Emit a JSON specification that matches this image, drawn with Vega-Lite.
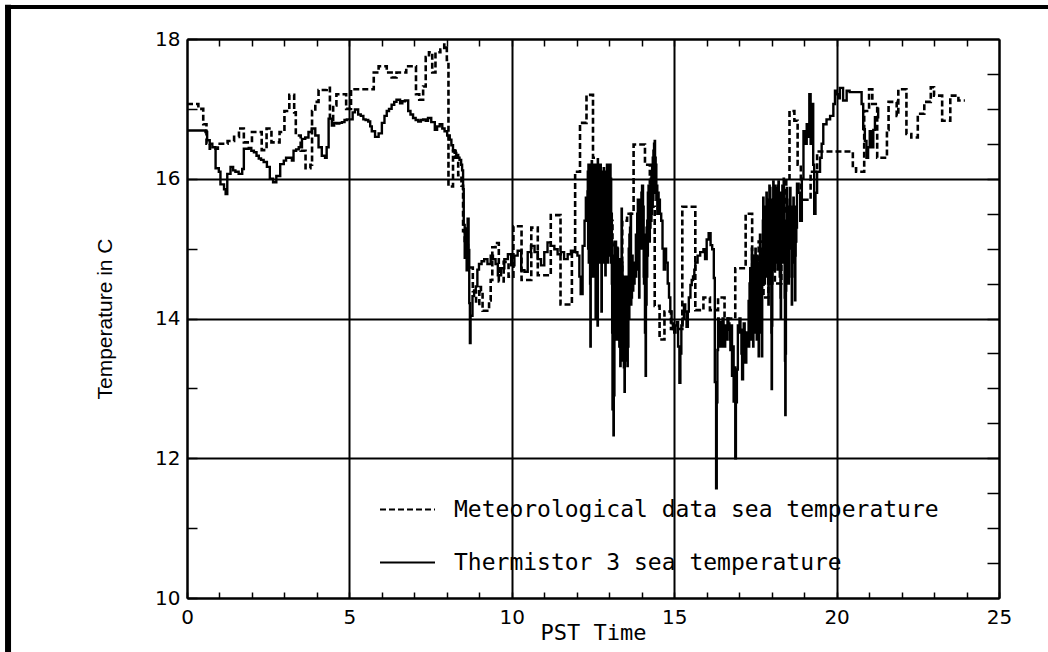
{
"$schema": "https://vega.github.io/schema/vega-lite/v6.json",
"width": 812,
"height": 559,
"autosize": {"type": "none"},
"padding": {"left": 187, "top": 39, "right": 49, "bottom": 54},
"background": "white",
"config": {"view": {"stroke": null}},
"datasets": {
"met": [
{"h":0,"t":17.07},{"h":0.35,"t":17.0},{"h":0.5,"t":16.78},{"h":0.6,"t":16.5},{"h":0.7,"t":16.43},{"h":0.95,"t":16.5},{"h":1.25,"t":16.54},{"h":1.45,"t":16.6},{"h":1.6,"t":16.72},{"h":1.75,"t":16.52},{"h":2.0,"t":16.67},{"h":2.3,"t":16.41},{"h":2.45,"t":16.72},{"h":2.6,"t":16.52},{"h":2.85,"t":16.67},{"h":3.0,"t":16.97},{"h":3.15,"t":17.2},{"h":3.3,"t":16.95},{"h":3.35,"t":16.62},{"h":3.5,"t":16.4},{"h":3.65,"t":16.15},{"h":3.8,"t":16.2},{"h":3.85,"t":16.97},{"h":3.95,"t":17.1},{"h":4.05,"t":17.27},{"h":4.3,"t":17.3},{"h":4.4,"t":16.84},{"h":4.5,"t":17.05},{"h":4.6,"t":17.21},{"h":4.9,"t":17.0},{"h":5.05,"t":17.28},{"h":5.75,"t":17.52},{"h":5.9,"t":17.61},{"h":6.15,"t":17.52},{"h":6.3,"t":17.45},{"h":6.45,"t":17.52},{"h":6.75,"t":17.61},{"h":7.05,"t":17.21},{"h":7.15,"t":17.13},{"h":7.27,"t":17.32},{"h":7.35,"t":17.74},{"h":7.45,"t":17.81},{"h":7.55,"t":17.52},{"h":7.65,"t":17.81},{"h":7.8,"t":17.85},{"h":7.92,"t":17.92},{"h":8.0,"t":17.7},{"h":8.05,"t":15.89},{"h":8.19,"t":16.4},{"h":8.27,"t":16.3},{"h":8.35,"t":16.05},{"h":8.45,"t":15.9},{"h":8.5,"t":15.25},{"h":8.55,"t":15.05},{"h":8.65,"t":14.73},{"h":8.8,"t":14.39},{"h":8.9,"t":14.21},{"h":9.0,"t":14.45},{"h":9.05,"t":14.39},{"h":9.1,"t":14.11},{"h":9.3,"t":14.26},{"h":9.35,"t":14.55},{"h":9.4,"t":15.02},{"h":9.5,"t":15.08},{"h":9.6,"t":14.53},{"h":9.75,"t":14.81},{"h":9.9,"t":14.6},{"h":10.05,"t":15.32},{"h":10.3,"t":14.55},{"h":10.6,"t":15.3},{"h":10.8,"t":14.62},{"h":11.2,"t":15.48},{"h":11.5,"t":14.2},{"h":11.85,"t":14.95},{"h":11.95,"t":16.1},{"h":12.1,"t":16.8},{"h":12.3,"t":17.2},{"h":12.5,"t":16.3},{"h":12.65,"t":15.9},{"h":12.85,"t":15.6},{"h":13.0,"t":15.4},{"h":13.1,"t":15.05},{"h":13.25,"t":14.5},{"h":13.4,"t":15.4},{"h":13.55,"t":15.5},{"h":13.75,"t":16.49},{"h":14.1,"t":16.2},{"h":14.25,"t":15.6},{"h":14.4,"t":14.18},{"h":14.55,"t":13.7},{"h":14.7,"t":14.1},{"h":14.9,"t":13.85},{"h":15.25,"t":15.6},{"h":15.65,"t":14.12},{"h":15.9,"t":14.3},{"h":16.1,"t":14.12},{"h":16.35,"t":14.3},{"h":16.55,"t":14.0},{"h":16.88,"t":14.72},{"h":17.2,"t":15.5},{"h":17.4,"t":14.4},{"h":17.6,"t":15.1},{"h":17.75,"t":14.3},{"h":17.9,"t":14.7},{"h":18.1,"t":14.5},{"h":18.3,"t":15.5},{"h":18.45,"t":16.0},{"h":18.55,"t":16.97},{"h":18.7,"t":16.83},{"h":18.8,"t":16.2},{"h":18.9,"t":15.7},{"h":19.2,"t":16.1},{"h":19.4,"t":16.39},{"h":20.5,"t":16.15},{"h":20.6,"t":16.1},{"h":20.85,"t":16.97},{"h":21.0,"t":17.28},{"h":21.1,"t":17.07},{"h":21.25,"t":16.3},{"h":21.55,"t":16.7},{"h":21.6,"t":17.1},{"h":21.85,"t":16.9},{"h":21.9,"t":17.28},{"h":22.15,"t":16.64},{"h":22.3,"t":16.59},{"h":22.5,"t":16.93},{"h":22.7,"t":17.1},{"h":22.9,"t":17.31},{"h":23.0,"t":17.19},{"h":23.25,"t":16.83},{"h":23.5,"t":17.19},{"h":23.75,"t":17.12},{"h":23.95,"t":17.12}
],
"thermo": [
{"h":0,"t":16.69},{"h":0.57,"t":16.67},{"h":0.62,"t":16.55},{"h":0.7,"t":16.5},{"h":0.78,"t":16.45},{"h":0.88,"t":16.15},{"h":0.98,"t":16.1},{"h":1.03,"t":15.92},{"h":1.14,"t":15.85},{"h":1.19,"t":15.78},{"h":1.24,"t":16.07},{"h":1.34,"t":16.17},{"h":1.42,"t":16.12},{"h":1.49,"t":16.1},{"h":1.59,"t":16.07},{"h":1.7,"t":16.14},{"h":1.75,"t":16.43},{"h":1.9,"t":16.44},{"h":1.98,"t":16.4},{"h":2.06,"t":16.38},{"h":2.14,"t":16.33},{"h":2.21,"t":16.29},{"h":2.28,"t":16.27},{"h":2.36,"t":16.24},{"h":2.46,"t":16.17},{"h":2.55,"t":16.0},{"h":2.65,"t":15.95},{"h":2.75,"t":16.04},{"h":2.87,"t":16.21},{"h":2.98,"t":16.26},{"h":3.05,"t":16.3},{"h":3.13,"t":16.3},{"h":3.23,"t":16.26},{"h":3.28,"t":16.4},{"h":3.36,"t":16.42},{"h":3.44,"t":16.45},{"h":3.54,"t":16.57},{"h":3.64,"t":16.59},{"h":3.74,"t":16.67},{"h":3.84,"t":16.72},{"h":3.95,"t":16.62},{"h":4.05,"t":16.45},{"h":4.15,"t":16.33},{"h":4.25,"t":16.3},{"h":4.3,"t":16.45},{"h":4.36,"t":16.86},{"h":4.46,"t":16.76},{"h":4.53,"t":16.8},{"h":4.61,"t":16.79},{"h":4.69,"t":16.8},{"h":4.77,"t":16.81},{"h":4.85,"t":16.84},{"h":4.92,"t":16.85},{"h":5.02,"t":16.85},{"h":5.1,"t":16.95},{"h":5.17,"t":16.99},{"h":5.27,"t":16.92},{"h":5.35,"t":16.9},{"h":5.43,"t":16.85},{"h":5.5,"t":16.84},{"h":5.58,"t":16.82},{"h":5.64,"t":16.75},{"h":5.69,"t":16.68},{"h":5.79,"t":16.6},{"h":5.9,"t":16.65},{"h":6.0,"t":16.8},{"h":6.08,"t":16.9},{"h":6.15,"t":16.97},{"h":6.22,"t":17.0},{"h":6.3,"t":17.06},{"h":6.38,"t":17.1},{"h":6.45,"t":17.13},{"h":6.56,"t":17.08},{"h":6.63,"t":17.11},{"h":6.71,"t":17.12},{"h":6.81,"t":16.97},{"h":6.88,"t":16.92},{"h":6.96,"t":16.87},{"h":7.04,"t":16.84},{"h":7.12,"t":16.82},{"h":7.2,"t":16.84},{"h":7.27,"t":16.85},{"h":7.35,"t":16.83},{"h":7.42,"t":16.87},{"h":7.52,"t":16.81},{"h":7.63,"t":16.7},{"h":7.7,"t":16.75},{"h":7.78,"t":16.78},{"h":7.86,"t":16.72},{"h":7.93,"t":16.68},{"h":8.01,"t":16.62},{"h":8.09,"t":16.56},{"h":8.14,"t":16.48},{"h":8.19,"t":16.41},{"h":8.24,"t":16.37},{"h":8.29,"t":16.34},{"h":8.35,"t":16.3},{"h":8.39,"t":16.27},{"h":8.44,"t":16.2},{"h":8.47,"t":16.12},{"h":8.5,"t":15.85},{"h":8.52,"t":15.34},{"h":8.55,"t":14.87},{"h":8.58,"t":15.29},{"h":8.61,"t":14.69},{"h":8.64,"t":15.43},{"h":8.67,"t":14.98},{"h":8.69,"t":14.22},{"h":8.71,"t":13.65},{"h":8.73,"t":14.04},{"h":8.79,"t":14.32},{"h":8.84,"t":14.4},{"h":8.89,"t":14.46},{"h":8.94,"t":14.7},{"h":8.99,"t":14.78},{"h":9.07,"t":14.82},{"h":9.15,"t":14.85},{"h":9.25,"t":14.78},{"h":9.35,"t":14.9},{"h":9.42,"t":14.85},{"h":9.5,"t":14.78},{"h":9.57,"t":14.62},{"h":9.67,"t":14.72},{"h":9.77,"t":14.85},{"h":9.88,"t":14.92},{"h":9.98,"t":14.76},{"h":10.08,"t":14.9},{"h":10.18,"t":14.97},{"h":10.29,"t":14.69},{"h":10.39,"t":14.67},{"h":10.49,"t":14.95},{"h":10.59,"t":15.04},{"h":10.7,"t":14.95},{"h":10.8,"t":14.85},{"h":10.9,"t":14.76},{"h":11.0,"t":14.95},{"h":11.1,"t":15.09},{"h":11.2,"t":15.04},{"h":11.31,"t":14.99},{"h":11.41,"t":14.92},{"h":11.51,"t":14.95},{"h":11.61,"t":14.85},{"h":11.72,"t":14.92},{"h":11.82,"t":14.97},{"h":11.92,"t":14.95},{"h":12.02,"t":14.9},{"h":12.08,"t":14.6},{"h":12.12,"t":14.35},{"h":12.18,"t":15.04},{"h":12.24,"t":15.4},{"h":12.28,"t":15.73},{"h":12.33,"t":15.82},
{"h":12.34,"t":16.1},{"h":12.35,"t":15.0},{"h":12.36,"t":16.2},{"h":12.37,"t":14.8},{"h":12.38,"t":16.0},{"h":12.39,"t":15.1},{"h":12.4,"t":16.2},{"h":12.41,"t":14.5},{"h":12.42,"t":13.6},{"h":12.43,"t":15.9},{"h":12.44,"t":14.9},{"h":12.45,"t":16.1},{"h":12.46,"t":16.25},{"h":12.47,"t":14.8},{"h":12.48,"t":16.0},{"h":12.49,"t":15.0},{"h":12.5,"t":14.6},{"h":12.51,"t":16.0},{"h":12.52,"t":14.8},{"h":12.53,"t":16.2},{"h":12.54,"t":15.0},{"h":12.55,"t":16.1},{"h":12.56,"t":14.8},{"h":12.57,"t":16.0},{"h":12.58,"t":14.0},{"h":12.59,"t":16.1},{"h":12.6,"t":14.9},{"h":12.61,"t":16.2},{"h":12.62,"t":15.0},{"h":12.63,"t":16.1},{"h":12.64,"t":13.9},{"h":12.65,"t":16.0},{"h":12.66,"t":14.8},{"h":12.67,"t":16.1},{"h":12.68,"t":15.0},{"h":12.69,"t":16.2},{"h":12.7,"t":14.8},{"h":12.71,"t":16.0},{"h":12.72,"t":15.0},{"h":12.73,"t":16.2},{"h":12.74,"t":14.9},{"h":12.75,"t":16.0},{"h":12.76,"t":14.1},{"h":12.77,"t":16.1},{"h":12.78,"t":14.9},{"h":12.79,"t":16.0},{"h":12.8,"t":15.0},{"h":12.81,"t":16.1},{"h":12.82,"t":14.8},{"h":12.83,"t":16.15},{"h":12.84,"t":15.0},{"h":12.85,"t":16.0},{"h":12.86,"t":14.9},{"h":12.87,"t":16.1},{"h":12.88,"t":14.62},{"h":12.89,"t":16.0},{"h":12.9,"t":14.9},{"h":12.91,"t":16.1},{"h":12.92,"t":15.0},{"h":12.93,"t":16.2},{"h":12.94,"t":14.9},{"h":12.95,"t":16.0},{"h":12.96,"t":14.8},{"h":12.97,"t":16.1},{"h":12.98,"t":15.0},{"h":12.99,"t":16.2},{"h":13.0,"t":14.9},{"h":13.01,"t":16.1},{"h":13.02,"t":15.0},{"h":13.03,"t":16.2},{"h":13.04,"t":15.2},{"h":13.05,"t":16.0},{"h":13.06,"t":14.8},{"h":13.07,"t":15.5},{"h":13.08,"t":14.5},
{"h":13.09,"t":13.8},{"h":13.1,"t":12.7},{"h":13.11,"t":14.6},{"h":13.12,"t":13.5},{"h":13.13,"t":12.33},{"h":13.14,"t":14.9},{"h":13.15,"t":12.9},{"h":13.16,"t":15.1},{"h":13.17,"t":14.2},{"h":13.18,"t":15.0},{"h":13.19,"t":13.8},{"h":13.2,"t":15.1},{"h":13.21,"t":14.0},{"h":13.22,"t":14.9},{"h":13.23,"t":13.7},{"h":13.24,"t":14.8},{"h":13.25,"t":13.9},{"h":13.26,"t":15.0},{"h":13.27,"t":13.8},{"h":13.28,"t":14.85},{"h":13.29,"t":13.7},{"h":13.3,"t":14.85},{"h":13.31,"t":13.6},{"h":13.32,"t":14.6},{"h":13.33,"t":13.8},{"h":13.34,"t":13.32},{"h":13.35,"t":14.7},{"h":13.36,"t":13.6},{"h":13.37,"t":14.8},{"h":13.38,"t":15.57},{"h":13.39,"t":13.6},{"h":13.4,"t":14.8},{"h":13.41,"t":13.4},{"h":13.42,"t":14.6},{"h":13.43,"t":13.5},{"h":13.44,"t":14.5},{"h":13.45,"t":13.3},{"h":13.46,"t":14.4},{"h":13.47,"t":12.95},{"h":13.48,"t":14.4},{"h":13.49,"t":13.4},{"h":13.5,"t":14.6},{"h":13.51,"t":13.5},{"h":13.52,"t":14.6},{"h":13.53,"t":13.4},{"h":13.54,"t":14.4},{"h":13.55,"t":13.6},{"h":13.56,"t":13.32},{"h":13.57,"t":14.6},{"h":13.58,"t":13.6},{"h":13.59,"t":14.5},{"h":13.6,"t":15.0},{"h":13.61,"t":14.0},{"h":13.62,"t":15.2},{"h":13.63,"t":14.2},{"h":13.64,"t":15.3},{"h":13.65,"t":14.3},{"h":13.66,"t":15.5},{"h":13.67,"t":14.2},{"h":13.68,"t":14.8},{"h":13.69,"t":14.3},{"h":13.7,"t":14.9},{"h":13.72,"t":14.4},{"h":13.74,"t":14.8},{"h":13.76,"t":14.5},{"h":13.78,"t":14.8},{"h":13.8,"t":14.6},{"h":13.82,"t":15.2},{"h":13.84,"t":14.7},{"h":13.86,"t":15.5},{"h":13.87,"t":15.1},{"h":13.88,"t":15.7},{"h":13.89,"t":14.9},{"h":13.9,"t":15.6},{"h":13.91,"t":14.6},{"h":13.92,"t":14.3},{"h":13.93,"t":15.6},{"h":13.94,"t":15.0},{"h":13.95,"t":15.7},{"h":13.96,"t":15.1},{"h":13.97,"t":15.64},{"h":13.98,"t":15.0},{"h":13.99,"t":15.8},{"h":14.0,"t":15.2},{"h":14.01,"t":15.9},{"h":14.02,"t":15.3},{"h":14.03,"t":15.9},{"h":14.04,"t":15.0},{"h":14.05,"t":15.6},{"h":14.06,"t":14.6},{"h":14.07,"t":14.5},{"h":14.08,"t":15.2},{"h":14.1,"t":13.8},{"h":14.11,"t":14.8},{"h":14.12,"t":13.18},{"h":14.13,"t":14.9},{"h":14.14,"t":14.2},{"h":14.15,"t":15.3},{"h":14.16,"t":14.6},{"h":14.17,"t":15.4},{"h":14.18,"t":14.9},{"h":14.19,"t":15.8},{"h":14.2,"t":15.2},{"h":14.21,"t":15.9},{"h":14.22,"t":15.3},{"h":14.23,"t":15.9},{"h":14.24,"t":15.1},{"h":14.25,"t":15.8},{"h":14.26,"t":15.3},{"h":14.27,"t":15.5},{"h":14.28,"t":16.0},{"h":14.29,"t":15.4},{"h":14.3,"t":16.1},{"h":14.31,"t":15.5},{"h":14.32,"t":16.2},{"h":14.33,"t":15.6},{"h":14.34,"t":16.3},{"h":14.35,"t":15.7},{"h":14.36,"t":16.4},{"h":14.37,"t":15.8},{"h":14.38,"t":16.5},{"h":14.39,"t":15.9},{"h":14.4,"t":16.54},{"h":14.41,"t":15.9},{"h":14.42,"t":16.3},{"h":14.43,"t":15.8},{"h":14.44,"t":16.2},{"h":14.45,"t":15.7},{"h":14.46,"t":15.9},{"h":14.48,"t":15.5},{"h":14.5,"t":15.8},{"h":14.52,"t":15.7},{"h":14.56,"t":15.5},{"h":14.6,"t":15.4},{"h":14.64,"t":15.0},{"h":14.68,"t":14.7},{"h":14.72,"t":15.0},{"h":14.75,"t":14.8},{"h":14.8,"t":14.5},{"h":14.84,"t":14.3},{"h":14.88,"t":14.1},{"h":14.92,"t":13.93},{"h":14.96,"t":13.85},{"h":15.0,"t":13.8},{"h":15.04,"t":13.9},{"h":15.08,"t":13.95},{"h":15.12,"t":13.6},{"h":15.16,"t":13.08},{"h":15.19,"t":13.5},{"h":15.22,"t":13.9},{"h":15.26,"t":14.0},{"h":15.3,"t":14.2},{"h":15.34,"t":14.1},{"h":15.38,"t":13.88},{"h":15.42,"t":14.1},{"h":15.45,"t":14.3},{"h":15.5,"t":14.48},{"h":15.54,"t":14.55},{"h":15.58,"t":14.62},{"h":15.62,"t":14.7},{"h":15.65,"t":14.8},{"h":15.72,"t":14.9},{"h":15.8,"t":14.95},{"h":15.9,"t":14.99},{"h":15.95,"t":14.85},{"h":16.0,"t":15.13},{"h":16.06,"t":15.22},{"h":16.12,"t":15.05},{"h":16.17,"t":14.99},{"h":16.22,"t":14.58},{"h":16.25,"t":13.09},{"h":16.29,"t":11.57},{"h":16.31,"t":12.8},{"h":16.33,"t":13.55},{"h":16.35,"t":14.0},{"h":16.37,"t":13.84},{"h":16.39,"t":13.6},{"h":16.42,"t":13.95},{"h":16.44,"t":13.6},{"h":16.47,"t":13.74},{"h":16.49,"t":14.0},{"h":16.52,"t":13.84},{"h":16.54,"t":13.6},{"h":16.57,"t":13.9},{"h":16.59,"t":13.7},{"h":16.62,"t":13.84},{"h":16.64,"t":14.0},{"h":16.67,"t":13.93},{"h":16.7,"t":13.7},{"h":16.73,"t":13.55},{"h":16.76,"t":13.9},{"h":16.78,"t":13.18},{"h":16.8,"t":13.6},{"h":16.83,"t":12.81},{"h":16.86,"t":13.3},{"h":16.88,"t":12.0},{"h":16.9,"t":12.8},{"h":16.93,"t":13.27},{"h":16.96,"t":13.9},{"h":16.98,"t":13.8},{"h":17.01,"t":14.0},{"h":17.04,"t":13.84},{"h":17.07,"t":13.5},{"h":17.09,"t":13.13},{"h":17.12,"t":13.6},{"h":17.14,"t":13.93},{"h":17.17,"t":13.6},{"h":17.19,"t":13.37},{"h":17.22,"t":13.6},{"h":17.24,"t":13.8},{"h":17.27,"t":13.6},
{"h":17.29,"t":14.25},{"h":17.3,"t":13.6},{"h":17.31,"t":13.9},{"h":17.32,"t":14.5},{"h":17.34,"t":14.72},{"h":17.35,"t":13.8},{"h":17.36,"t":14.3},{"h":17.38,"t":13.7},{"h":17.39,"t":15.0},{"h":17.4,"t":13.9},{"h":17.41,"t":14.4},{"h":17.42,"t":14.6},{"h":17.43,"t":13.6},{"h":17.44,"t":14.2},{"h":17.46,"t":14.9},{"h":17.47,"t":14.7},{"h":17.48,"t":13.8},{"h":17.5,"t":15.0},{"h":17.51,"t":14.3},{"h":17.53,"t":14.5},{"h":17.54,"t":13.7},{"h":17.55,"t":14.9},{"h":17.56,"t":14.0},{"h":17.58,"t":14.5},{"h":17.6,"t":13.46},{"h":17.61,"t":14.8},{"h":17.62,"t":14.2},{"h":17.63,"t":13.8},{"h":17.64,"t":15.2},{"h":17.65,"t":14.9},{"h":17.66,"t":14.4},{"h":17.67,"t":14.2},{"h":17.68,"t":15.0},{"h":17.69,"t":14.8},{"h":17.7,"t":13.46},{"h":17.71,"t":14.9},
{"h":17.72,"t":14.6},{"h":17.73,"t":15.4},{"h":17.74,"t":15.73},{"h":17.75,"t":14.8},{"h":17.76,"t":15.5},{"h":17.77,"t":15.2},{"h":17.78,"t":14.5},{"h":17.79,"t":15.6},{"h":17.8,"t":14.9},{"h":17.81,"t":15.5},{"h":17.82,"t":15.3},{"h":17.83,"t":14.6},{"h":17.84,"t":15.8},{"h":17.85,"t":15.64},{"h":17.86,"t":15.0},{"h":17.87,"t":15.7},{"h":17.88,"t":14.9},{"h":17.89,"t":14.5},{"h":17.9,"t":14.2},{"h":17.91,"t":15.5},{"h":17.92,"t":15.0},{"h":17.93,"t":15.9},{"h":17.94,"t":14.8},{"h":17.95,"t":15.87},{"h":17.96,"t":15.2},{"h":17.97,"t":15.7},{"h":17.98,"t":14.5},{"h":17.99,"t":13.8},{"h":18.0,"t":12.99},{"h":18.01,"t":13.9},{"h":18.02,"t":14.5},{"h":18.03,"t":15.6},{"h":18.04,"t":15.1},{"h":18.05,"t":15.96},{"h":18.06,"t":15.0},{"h":18.07,"t":15.8},{"h":18.08,"t":15.4},{"h":18.09,"t":14.7},{"h":18.1,"t":14.9},{"h":18.11,"t":15.9},{"h":18.12,"t":15.4},{"h":18.13,"t":14.8},{"h":18.14,"t":15.7},{"h":18.15,"t":15.87},{"h":18.16,"t":15.0},{"h":18.17,"t":15.6},{"h":18.18,"t":14.7},{"h":18.19,"t":15.5},{"h":18.2,"t":15.9},{"h":18.21,"t":15.96},{"h":18.22,"t":15.2},{"h":18.23,"t":15.8},{"h":18.24,"t":15.0},{"h":18.25,"t":14.6},{"h":18.26,"t":15.5},{"h":18.27,"t":14.3},{"h":18.28,"t":14.0},{"h":18.29,"t":15.1},{"h":18.3,"t":15.8},{"h":18.31,"t":14.9},{"h":18.32,"t":15.2},{"h":18.33,"t":15.9},{"h":18.34,"t":15.3},{"h":18.35,"t":15.7},{"h":18.36,"t":14.8},{"h":18.37,"t":16.0},{"h":18.38,"t":15.4},{"h":18.39,"t":15.0},{"h":18.4,"t":14.3},{"h":18.41,"t":13.4},{"h":18.42,"t":12.62},{"h":18.43,"t":13.5},{"h":18.44,"t":14.4},{"h":18.45,"t":15.3},{"h":18.46,"t":15.8},{"h":18.47,"t":15.87},{"h":18.48,"t":15.0},{"h":18.49,"t":15.6},{"h":18.5,"t":15.2},{"h":18.51,"t":14.8},{"h":18.52,"t":14.5},{"h":18.53,"t":15.5},{"h":18.54,"t":15.0},{"h":18.55,"t":15.2},{"h":18.56,"t":15.7},{"h":18.57,"t":15.87},{"h":18.58,"t":15.3},{"h":18.59,"t":15.6},{"h":18.6,"t":15.0},{"h":18.61,"t":14.6},{"h":18.62,"t":14.2},{"h":18.63,"t":14.8},{"h":18.64,"t":15.5},{"h":18.65,"t":15.0},{"h":18.66,"t":15.4},{"h":18.67,"t":15.73},{"h":18.68,"t":15.2},{"h":18.69,"t":15.6},{"h":18.7,"t":15.0},{"h":18.71,"t":14.6},{"h":18.72,"t":14.26},{"h":18.73,"t":14.9},{"h":18.74,"t":15.5},{"h":18.75,"t":15.1},{"h":18.76,"t":15.6},{"h":18.77,"t":15.3},{"h":18.78,"t":15.93},
{"h":18.83,"t":15.8},{"h":18.88,"t":15.4},{"h":18.93,"t":16.0},{"h":18.98,"t":16.68},{"h":19.03,"t":16.5},{"h":19.08,"t":16.78},{"h":19.12,"t":16.6},{"h":19.16,"t":17.21},{"h":19.2,"t":16.5},{"h":19.25,"t":17.07},{"h":19.28,"t":16.2},{"h":19.31,"t":15.5},{"h":19.35,"t":15.8},{"h":19.4,"t":16.1},{"h":19.49,"t":16.3},{"h":19.54,"t":16.5},{"h":19.59,"t":16.78},{"h":19.69,"t":16.85},{"h":19.8,"t":16.9},{"h":19.9,"t":17.07},{"h":19.95,"t":17.26},{"h":20.0,"t":17.21},{"h":20.05,"t":17.15},{"h":20.1,"t":17.3},{"h":20.2,"t":17.12},{"h":20.31,"t":17.26},{"h":20.4,"t":17.24},{"h":20.7,"t":17.24},{"h":20.77,"t":17.07},{"h":20.82,"t":16.71},{"h":20.87,"t":16.54},{"h":20.92,"t":16.3},{"h":20.97,"t":16.45},{"h":21.02,"t":16.68},{"h":21.08,"t":16.45},{"h":21.13,"t":16.7},{"h":21.18,"t":16.88},{"h":21.28,"t":17.02}
]
},
"layer": [
{
"data": {"values": [{}]},
"mark": {"type": "rule", "clip": false, "color": "black", "strokeWidth": 6},
"encoding": {
"x": {"datum": -5.51, "type": "quantitative", "scale": {"domain": [0, 25], "nice": false, "zero": false}, "axis": null},
"y": {"datum": 18.49, "type": "quantitative", "scale": {"domain": [10, 18], "nice": false, "zero": false}, "axis": null},
"y2": {"datum": 9.0}
}
},
{
"data": {"values": [{}]},
"mark": {"type": "rule", "clip": false, "color": "black", "strokeWidth": 4},
"encoding": {
"x": {"datum": -5.6, "type": "quantitative", "axis": null},
"x2": {"datum": 26.6},
"y": {"datum": 18.458, "type": "quantitative", "axis": null}
}
},
{
"data": {"name": "met"},
"mark": {"type": "line", "interpolate": "step-after", "color": "black", "strokeWidth": 2.6},
"encoding": {
"x": {"field": "h", "type": "quantitative",
"axis": {"orient": "top", "values": [1,2,3,4,5,6,7,8,9,10,11,12,13,14,15,16,17,18,19,20,21,22,23,24], "labels": false, "tickSize": -7, "tickWidth": 1.5, "tickColor": "black", "domainColor": "black", "domainWidth": 2, "grid": false, "title": null}},
"y": {"field": "t", "type": "quantitative",
"axis": {"orient": "right", "values": [10.5,11,11.5,12,12.5,13,13.5,14,14.5,15,15.5,16,16.5,17,17.5], "labels": false, "tickSize": -12, "tickWidth": 1.5, "tickColor": "black", "domainColor": "black", "domainWidth": 2, "grid": false, "title": null}},
"strokeDash": {"datum": "Meteorological data sea temperature", "type": "nominal",
"scale": {"domain": ["Meteorological data sea temperature", "Thermistor 3 sea temperature"], "range": [[6, 3], [1, 0]]},
"legend": {"title": null, "orient": "none", "legendX": 192, "legendY": 442, "symbolType": "stroke", "symbolSize": 3025, "symbolStrokeWidth": 2, "symbolStrokeColor": "black", "labelFont": "DejaVu Sans Mono", "labelFontSize": 23, "labelColor": "black", "labelOffset": 18, "rowPadding": 12, "labelLimit": 0}}
}
},
{
"data": {"name": "thermo"},
"mark": {"type": "line", "interpolate": "step-after", "color": "black", "strokeWidth": 2.4},
"encoding": {
"x": {"field": "h", "type": "quantitative",
"axis": {"orient": "bottom", "values": [0,1,2,3,4,5,6,7,8,9,10,11,12,13,14,15,16,17,18,19,20,21,22,23,24,25], "labelExpr": "datum.value % 5 === 0 ? datum.label : ''", "labelFlush": false, "labelOverlap": false, "tickSize": -6, "tickWidth": 1.5, "tickColor": "black", "labelPadding": 15, "labelFont": "DejaVu Sans", "labelFontSize": 20, "labelColor": "black", "domainColor": "black", "domainWidth": 2, "grid": true, "gridColor": "black", "gridWidth": 2, "gridOpacity": {"condition": {"test": "datum.value % 5 === 0", "value": 1}, "value": 0}, "title": "PST Time", "titleFont": "DejaVu Sans Mono", "titleFontSize": 22, "titleFontWeight": "normal", "titleColor": "black", "titlePadding": -5}},
"y": {"field": "t", "type": "quantitative",
"axis": {"orient": "left", "values": [10,10.5,11,11.5,12,12.5,13,13.5,14,14.5,15,15.5,16,16.5,17,17.5,18], "format": "d", "labelExpr": "datum.value % 2 === 0 ? datum.label : ''", "labelFlush": false, "labelOverlap": false, "tickSize": -10, "tickWidth": 1.5, "tickColor": "black", "labelPadding": 17, "labelFont": "DejaVu Sans", "labelFontSize": 20, "labelColor": "black", "domainColor": "black", "domainWidth": 2, "grid": true, "gridColor": "black", "gridWidth": 2, "gridOpacity": {"condition": {"test": "datum.value % 2 === 0", "value": 1}, "value": 0}, "title": "Temperature in C", "titleFont": "Liberation Sans", "titleFontSize": 21, "titleFontWeight": "normal", "titleColor": "black", "titlePadding": 39}},
"strokeDash": {"datum": "Thermistor 3 sea temperature", "type": "nominal",
"scale": {"domain": ["Meteorological data sea temperature", "Thermistor 3 sea temperature"], "range": [[6, 3], [1, 0]]},
"legend": {"title": null, "orient": "none", "legendX": 192, "legendY": 442, "symbolType": "stroke", "symbolSize": 3025, "symbolStrokeWidth": 2, "symbolStrokeColor": "black", "labelFont": "DejaVu Sans Mono", "labelFontSize": 23, "labelColor": "black", "labelOffset": 18, "rowPadding": 12, "labelLimit": 0}}
}
}
],
"resolve": {"axis": {"x": "independent", "y": "independent"}}
}
